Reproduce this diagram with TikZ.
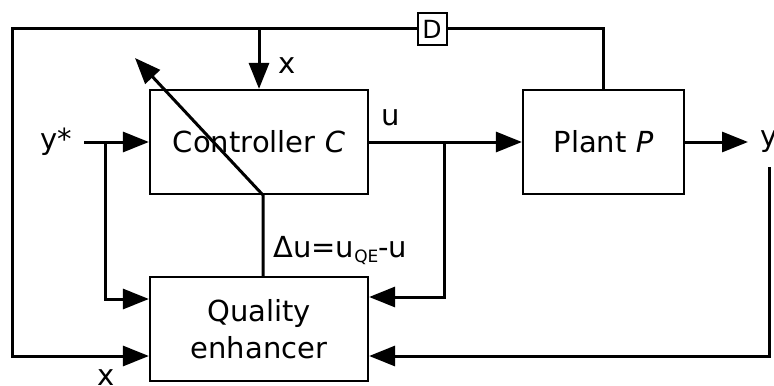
\documentclass[tikz,border=0pt]{standalone}
\usepackage{fontspec}
\setmainfont{DejaVu Sans}
\usetikzlibrary{arrows.meta}
\tikzset{
  blk/.style={draw, line width=1.1pt, minimum width=109pt, minimum height=52pt, inner sep=0pt, align=center},
  wire/.style={line width=1.5pt},
  arr/.style={wire, -{Triangle[length=13pt,width=10pt]}},
  lbl/.style={inner sep=0pt},
}
\begin{document}
\begin{tikzpicture}[x=0.5pt, y=-0.5pt, font=\fontsize{14.5}{18.5}\selectfont]
\useasboundingbox (0,0) rectangle (774,385);
\node[blk] (ctrl) at (259,142) {Controller \textit{C}};
\node[blk, minimum width=80.5pt] (plant) at (603.5,142) {Plant \textit{P}};
\node[blk] (qe) at (259,329) {Quality\\enhancer};
\node[draw, line width=1pt, minimum width=14.5pt, minimum height=16pt, inner sep=0pt, fill=white, font=\fontsize{12.5}{13}\selectfont] (dly) at (432,29) {D};

\node[lbl] (ystar) at (56,142) {y*};
\node[lbl, anchor=west] (yout) at (760,142) {y};
\node[lbl] (xtop) at (287,66) {x};
\node[lbl] (xbot) at (106,378) {x};
\node[lbl] (ulbl) at (391,118) {u};
\node[lbl, anchor=west] (du) at (273,251) {Δu=u\raisebox{-2.5pt}{\fontsize{8.5}{9}\selectfont QE}-u};

\coordinate (tl) at (12,29);
\coordinate (xj) at (259,29);
\coordinate (ys) at (105,142);
\coordinate (ub) at (444,142);
\coordinate (yfb) at (769,167);
\coordinate (tip) at (135,58);

\draw[arr] ([xshift=6pt]ystar.east) -- (ystar -| ctrl.west);
\draw[arr] (ys) |- ([yshift=15pt]qe.west);
\draw[arr] (xj) -- (ctrl.north);
\draw[wire] (plant.north) |- (dly.east);
\draw[arr] (dly.west) -- (tl) |- ([yshift=-13.5pt]qe.west);
\draw[arr] (ctrl.east) -- (plant.west);
\draw[arr] (ub) |- ([yshift=16pt]qe.east);
\draw[arr] (plant.east) -- ([xshift=-6pt]yout.west);
\draw[arr] (yfb) |- ([yshift=-13.5pt]qe.east);
\draw[arr] ([xshift=2pt]qe.north) -- ([xshift=2pt]ctrl.south) -- (tip);
\end{tikzpicture}
\end{document}
